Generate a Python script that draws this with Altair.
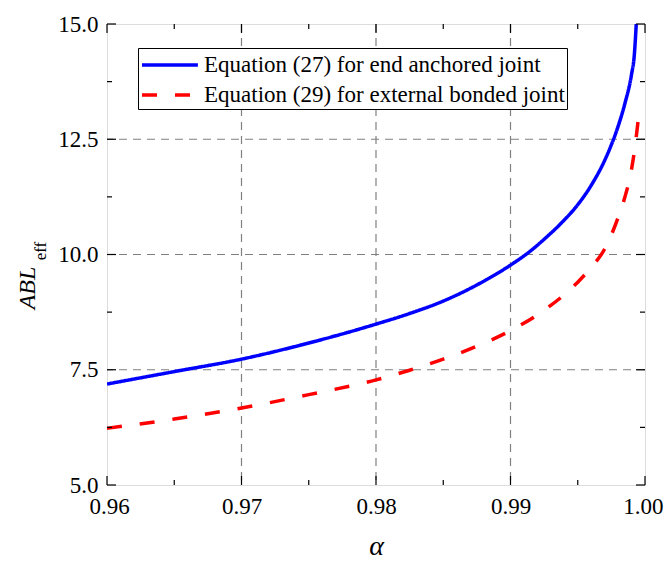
import altair as alt
import pandas as pd

# ---- data ----
alpha_27 = [0.960, 0.965, 0.970, 0.975, 0.980, 0.9825, 0.985, 0.9875, 0.990, 0.9915,
            0.9925, 0.9937, 0.995, 0.996, 0.997, 0.9975, 0.998, 0.9985, 0.999,
            0.9992, 0.99935]
abl_27 = [7.19, 7.46, 7.73, 8.08, 8.49, 8.72, 8.99, 9.34, 9.77, 10.08,
          10.33, 10.66, 11.08, 11.50, 12.04, 12.38, 12.78, 13.27, 13.91,
          14.31, 15.0]

alpha_29 = [0.960, 0.965, 0.970, 0.975, 0.980, 0.9825, 0.985, 0.9875, 0.990,
            0.9925, 0.995, 0.996, 0.997, 0.998, 0.9985, 0.999, 0.99925,
            0.9995, 0.9996]
abl_29 = [6.23, 6.43, 6.67, 6.96, 7.28, 7.49, 7.73, 8.01, 8.35,
          8.79, 9.40, 9.72, 10.12, 10.80, 11.24, 11.85, 12.32,
          12.93, 13.18]

series_names = ["Equation (27) for end anchored joint",
                "Equation (29) for external bonded joint"]

x_major = [0.96, 0.97, 0.98, 0.99, 1.00]
x_minor = [0.965, 0.975, 0.985, 0.995]
y_major = [5.0, 7.5, 10.0, 12.5, 15.0]
y_minor = [6.25, 8.75, 11.25, 13.75]
x_grid = [0.97, 0.98, 0.99]
y_grid = [7.5, 10.0, 12.5]

W, H = 538, 461
FONT = "Liberation Serif"

df = pd.concat([
    pd.DataFrame({"a": alpha_27, "v": abl_27, "series": series_names[0]}),
    pd.DataFrame({"a": alpha_29, "v": abl_29, "series": series_names[1]}),
])

xscale = alt.Scale(domain=[0.96, 1.00], nice=False, zero=False)
yscale = alt.Scale(domain=[5.0, 15.0], nice=False, zero=False)
xaxis = alt.Axis(values=x_major, format=".2f", grid=False, ticks=False, domain=False,
                 labelFont=FONT, labelFontSize=23, labelColor="black", labelPadding=10,
                 labelFlush=True, labelFlushOffset=18,
                 title="α", titleFont=FONT, titleFontSize=28, titleFontStyle="italic",
                 titleFontWeight="normal", titleColor="black", titlePadding=14)
yaxis = alt.Axis(values=y_major, format=".1f", grid=False, ticks=False, domain=False,
                 labelFont=FONT, labelFontSize=23, labelColor="black", labelPadding=9,
                 labelFlush=False, title=None)

def X(field="a"):
    return alt.X(f"{field}:Q", scale=xscale, axis=xaxis)

def Y(field="v"):
    return alt.Y(f"{field}:Q", scale=yscale, axis=yaxis)

grid_style = dict(color="#808080", strokeWidth=1.2, strokeDash=[8, 6])

vgrid = alt.Chart(pd.DataFrame({"a": x_grid})).mark_rule(**grid_style).encode(x=X())
hgrid = alt.Chart(pd.DataFrame({"v": y_grid})).mark_rule(**grid_style).encode(y=Y())

legend_props = dict(title=None, orient="none", legendX=31, legendY=24,
                    strokeColor="black", fillColor="white", padding=2,
                    labelFont=FONT, labelFontSize=23, labelColor="black",
                    symbolType="M-1,0L3.3,0", symbolSize=676,
                    symbolStrokeWidth=3.5, labelOffset=34, rowPadding=3,
                    labelLimit=600)

lines = alt.Chart(df).mark_line(strokeWidth=3.5, clip=True, interpolate="monotone").encode(
    x=X(), y=Y(),
    color=alt.Color("series:N",
                    scale=alt.Scale(domain=series_names, range=["#0000ff", "#ff0000"]),
                    legend=alt.Legend(**legend_props)),
    strokeDash=alt.StrokeDash("series:N",
                              scale=alt.Scale(domain=series_names, range=[[1, 0], [15, 18]]),
                              legend=alt.Legend(**legend_props)),
)

tick_style = dict(color="black", strokeWidth=1.2)
MAJ, MIN = 9, 5

def xticks(vals, length):
    d = pd.DataFrame({"a": vals})
    b = alt.Chart(d).mark_rule(**tick_style).encode(x=X(), y=alt.value(H), y2=alt.value(H - length))
    t = alt.Chart(d).mark_rule(**tick_style).encode(x=X(), y=alt.value(0), y2=alt.value(length))
    return [b, t]

def yticks(vals, length):
    d = pd.DataFrame({"v": vals})
    l = alt.Chart(d).mark_rule(**tick_style).encode(y=Y(), x=alt.value(0), x2=alt.value(length))
    r = alt.Chart(d).mark_rule(**tick_style).encode(y=Y(), x=alt.value(W), x2=alt.value(W - length))
    return [l, r]

ticks = xticks(x_major, MAJ) + xticks(x_minor, MIN) + yticks(y_major, MAJ) + yticks(y_minor, MIN)

ytitle_main = alt.Chart(pd.DataFrame({"t": ["ABL"]})).mark_text(
    font=FONT, fontSize=24, fontStyle="italic", angle=270, align="center",
    baseline="middle", color="black").encode(text="t:N", x=alt.value(-79), y=alt.value(264))
ytitle_sub = alt.Chart(pd.DataFrame({"t": ["eff"]})).mark_text(
    font=FONT, fontSize=17, angle=270, align="center", baseline="middle",
    color="black").encode(text="t:N", x=alt.value(-66), y=alt.value(227))

chart = alt.layer(vgrid, hgrid, lines, *ticks, ytitle_main, ytitle_sub).properties(
    width=W, height=H,
    autosize=alt.AutoSizeParams(type="none"),
    padding={"left": 107, "top": 24, "right": 664 - 107 - W, "bottom": 567 - 24 - H},
).configure_view(stroke="black", strokeWidth=1.5).configure(font=FONT, background="white")

chart.save("out.html", embed_options={"renderer": "svg", "actions": False})
